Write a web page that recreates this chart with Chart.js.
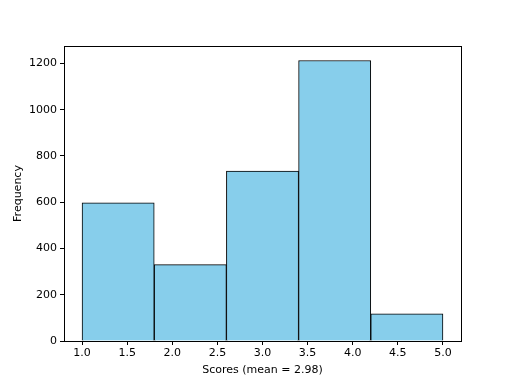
<!DOCTYPE html>
<html>
<head>
<meta charset="utf-8">
<script src="https://cdn.jsdelivr.net/npm/chart.js@4/dist/chart.umd.min.js"></script>
<style>
  html, body { margin: 0; padding: 0; background: #fff; }
  #wrap { width: 512px; height: 384px; }
</style>
</head>
<body>
<div id="wrap"><canvas id="hist"></canvas></div>
<script>
// histogram bins (edges) and counts per bin
const binEdges = [1.0, 1.8, 2.6, 3.4, 4.2, 5.0];
const counts = [597, 330, 735, 1213, 117];
const xTicks = [1.0, 1.5, 2.0, 2.5, 3.0, 3.5, 4.0, 4.5, 5.0];
const yTicks = [0, 200, 400, 600, 800, 1000, 1200];
const xTitle = 'Scores (mean = 2.98)';
const yTitle = 'Frequency';

const points = counts.map((c, i) => ({ x: (binEdges[i] + binEdges[i + 1]) / 2, y: c }));

// matplotlib-style box around the plot area
const frame = {
    id: 'frame',
    afterDraw(chart) {
        const { ctx, chartArea: a } = chart;
        ctx.save();
        ctx.strokeStyle = '#000';
        ctx.lineWidth = 1;
        ctx.strokeRect(a.left + 0.5, a.top + 0.5, a.right - a.left, a.bottom - a.top);
        ctx.restore();
    }
};

Chart.defaults.font.family = 'DejaVu Sans';
Chart.defaults.font.size = 11;
Chart.defaults.color = '#000';

new Chart(document.getElementById('hist'), {
    type: 'bar',
    data: {
        datasets: [{
            data: points,
            xAxisID: 'x',
            backgroundColor: '#87CEEB',
            borderColor: '#000',
            borderWidth: 1,
            barPercentage: 1,
            categoryPercentage: 1
        }]
    },
    options: {
        responsive: true,
        maintainAspectRatio: false,
        animation: false,
        layout: { padding: { left: 0, top: 46, right: 51, bottom: 0 } },
        plugins: { legend: { display: false }, tooltip: { enabled: false } },
        scales: {
            // hidden axis on bin edges, so bars span a full bin
            x: {
                type: 'linear',
                display: false,
                offset: false,
                min: 0.8,
                max: 5.2,
                afterBuildTicks: s => { s.ticks = binEdges.map(v => ({ value: v })); }
            },
            x2: {
                type: 'linear',
                position: 'bottom',
                offset: false,
                min: 0.8,
                max: 5.2,
                afterBuildTicks: s => { s.ticks = xTicks.map(v => ({ value: v })); },
                afterFit: s => { s.height = 43; },
                ticks: { callback: v => v.toFixed(1), maxRotation: 0, padding: 2 },
                grid: { drawOnChartArea: false, offset: false, color: '#000', tickLength: 4 },
                border: { color: '#000' },
                title: { display: true, text: xTitle, padding: { top: 0, bottom: 7 } }
            },
            y: {
                min: 0,
                max: 1275.6,
                afterBuildTicks: s => { s.ticks = yTicks.map(v => ({ value: v })); },
                afterFit: s => { s.width = 64; },
                ticks: { callback: v => String(v), padding: 3 },
                grid: { drawOnChartArea: false, color: '#000', tickLength: 4 },
                border: { color: '#000' },
                title: { display: true, text: yTitle, padding: { top: 12, bottom: 0 } }
            }
        }
    },
    plugins: [frame]
});
</script>
</body>
</html>
